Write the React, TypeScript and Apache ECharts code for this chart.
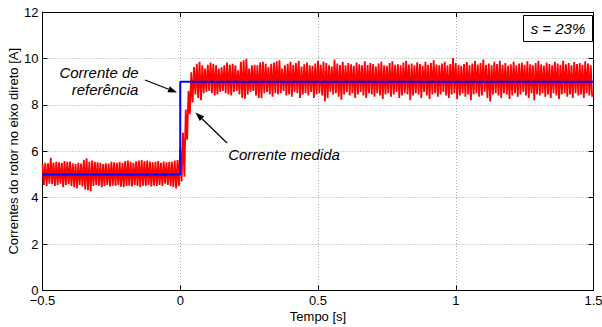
import React, { useEffect, useRef } from "react";
import * as echarts from "echarts";

// ---------- data ----------
const xTickLabels = ["\u22120.5", "0", "0.5", "1", "1.5"];
const yTickLabels = ["0", "2", "4", "6", "8", "10", "12"];

// reference current (step)
const refTime = [-0.5, 0, 0, 1.5];
const refValue = [5, 5, 9, 9];

// measured current: upper / lower envelope per 0.01 s bin, starting at t = -0.5
const T0 = -0.5;
const BIN = 0.01;
const preHi = [5.45, 5.5, 5.48, 5.72, 5.5, 5.55, 5.52, 5.5, 5.58, 5.55, 5.56, 5.48, 5.45, 5.5, 5.47, 5.62, 5.7, 5.55, 5.6, 5.54, 5.52, 5.5, 5.45, 5.48, 5.47, 5.55, 5.52, 5.5, 5.53, 5.5, 5.58, 5.6, 5.55, 5.5, 5.57, 5.6, 5.62, 5.58, 5.6, 5.56, 5.52, 5.55, 5.58, 5.5, 5.56, 5.52, 5.54, 5.55, 5.6, 5.62];
const preLo = [4.55, 4.5, 4.6, 4.58, 4.5, 4.55, 4.6, 4.45, 4.55, 4.58, 4.5, 4.45, 4.4, 4.55, 4.48, 4.35, 4.32, 4.28, 4.5, 4.55, 4.52, 4.45, 4.5, 4.55, 4.48, 4.52, 4.5, 4.55, 4.47, 4.45, 4.5, 4.52, 4.48, 4.55, 4.5, 4.45, 4.52, 4.5, 4.55, 4.48, 4.52, 4.5, 4.55, 4.5, 4.6, 4.55, 4.5, 4.45, 4.4, 4.5];
const stepHi = [6.2, 6.8, 7.8, 8.6, 9.4];
const stepLo = [4.7, 4.9, 6.5, 7.6, 8.1];
const postHi = [
  9.63, 9.77, 9.85, 9.7, 9.56, 9.72, 9.82, 9.77, 9.7, 9.56,
  9.63, 9.7, 9.82, 9.72, 9.77, 9.7, 9.49, 9.85, 9.92, 9.98,
  9.56, 9.7, 9.72, 9.7, 9.82, 9.85, 9.77, 9.63, 9.77, 9.82,
  9.88, 9.92, 9.56, 9.7, 9.77, 9.85, 9.72, 9.8, 9.9, 9.65,
  9.75, 9.82, 9.7, 9.68, 9.78, 9.9, 9.72, 9.85, 9.8, 9.7,
  9.65, 9.95, 9.78, 9.72, 9.85, 9.7, 9.8, 9.75, 9.68, 9.82,
  9.75, 9.7, 9.88, 9.72, 9.8, 9.76, 9.65, 9.78, 9.85, 9.7,
  9.68, 9.8, 9.88, 9.72, 9.75, 9.7, 9.82, 9.9, 9.74, 9.78,
  9.7, 9.83, 9.76, 9.68, 9.85, 9.72, 9.8, 9.92, 9.74, 9.7,
  9.78, 9.85, 9.7, 9.76, 10.02, 9.8, 9.72, 9.68, 9.76, 9.84,
  9.7, 9.78, 9.9, 9.74, 9.8, 9.95, 9.72, 9.78, 9.7, 9.86,
  9.76, 9.9, 9.72, 9.8, 9.68, 9.75, 9.85, 9.7, 9.78, 9.82,
  9.72, 9.88, 9.75, 9.7, 9.8, 9.9, 9.74, 9.68, 9.82, 9.76,
  9.7, 9.85, 9.78, 9.72, 9.9, 9.75, 9.8, 9.7, 9.84, 9.76,
  9.8, 9.72, 9.88, 9.78, 9.7,
];
const postLo = [
  8.45, 8.3, 8.2, 8.5, 8.55, 8.6, 8.5, 8.4, 8.45, 8.55,
  8.6, 8.5, 8.45, 8.4, 8.55, 8.6, 8.45, 8.3, 8.26, 8.45,
  8.55, 8.6, 8.4, 8.3, 8.28, 8.5, 8.55, 8.45, 8.35, 8.5,
  8.45, 8.5, 8.6, 8.4, 8.45, 8.35, 8.55, 8.5, 8.3, 8.45,
  8.5, 8.4, 8.55, 8.3, 8.45, 8.5, 8.4, 8.15, 8.3, 8.55,
  8.45, 8.5, 8.35, 8.22, 8.45, 8.55, 8.4, 8.5, 8.3, 8.45,
  8.55, 8.4, 8.3, 8.5, 8.45, 8.35, 8.5, 8.4, 8.25, 8.45,
  8.5, 8.35, 8.45, 8.55, 8.3, 8.4, 8.5, 8.45, 8.2, 8.4,
  8.5, 8.45, 8.3, 8.55, 8.4, 8.25, 8.45, 8.5, 8.35, 8.45,
  8.55, 8.4, 8.3, 8.45, 8.5, 8.25, 8.4, 8.5, 8.35, 8.45,
  8.2, 8.45, 8.5, 8.35, 8.4, 8.55, 8.3, 8.15, 8.45, 8.5,
  8.4, 8.3, 8.5, 8.45, 8.25, 8.4, 8.5, 8.35, 8.45, 8.55,
  8.4, 8.3, 8.5, 8.2, 8.45, 8.4, 8.5, 8.35, 8.45, 8.3,
  8.5, 8.4, 8.25, 8.45, 8.5, 8.35, 8.45, 8.3, 8.5, 8.4,
  8.45, 8.3, 8.5, 8.4, 8.35,
];

const FONT = "'Liberation Sans', Arial, Helvetica, sans-serif";

function arrow(x1: number, y1: number, x2: number, y2: number) {
  const dx = x2 - x1;
  const dy = y2 - y1;
  const len = Math.sqrt(dx * dx + dy * dy);
  const ux = dx / len;
  const uy = dy / len;
  const hl = 9;
  const hw = 3.2;
  const bx = x2 - ux * hl;
  const by = y2 - uy * hl;
  return [
    {
      type: "line",
      z: 100,
      shape: { x1, y1, x2: bx, y2: by },
      style: { stroke: "#000", lineWidth: 1.2 },
    },
    {
      type: "polygon",
      z: 100,
      shape: {
        points: [
          [x2, y2],
          [bx - uy * hw, by + ux * hw],
          [bx + uy * hw, by - ux * hw],
        ],
      },
      style: { fill: "#000" },
    },
  ];
}

export default function App() {
  const ref = useRef<HTMLDivElement>(null);

  useEffect(() => {
    if (!ref.current) return;
    const chart = echarts.init(ref.current, undefined, { renderer: "svg" });

    const hiAll = [...preHi, ...stepHi, ...postHi];
    const loAll = [...preLo, ...stepLo, ...postLo];
    const measured: number[][] = [];
    hiAll.forEach((h, k) => {
      const t = T0 + k * BIN;
      measured.push([+t.toFixed(4), h], [+(t + BIN / 2).toFixed(4), loAll[k]]);
    });
    const reference = refTime.map((t, i) => [t, refValue[i]]);

    const axisCommon = {
      axisLine: { show: true, onZero: false, lineStyle: { color: "#000", width: 1 } },
      axisTick: { show: true, inside: true, length: 5, lineStyle: { color: "#000" } },
    };

    chart.setOption({
      animation: false,
      backgroundColor: "#fff",
      textStyle: { fontFamily: FONT },
      grid: {
        left: 42.5,
        right: 8.5,
        top: 12,
        bottom: 36.5,
        containLabel: false,
        outerBoundsMode: "none",
      },
      xAxis: [
        {
          type: "value",
          min: -0.5,
          max: 1.5,
          interval: 0.5,
          position: "bottom",
          ...axisCommon,
          axisLabel: {
            color: "#000",
            fontSize: 13,
            fontFamily: FONT,
            margin: 3,
            formatter: (_v: number, i: number) => xTickLabels[i],
          },
          splitLine: { show: true, lineStyle: { color: "#aaa", type: [1, 2], width: 1 } },
          name: "Tempo [s]",
          nameLocation: "middle",
          nameGap: 19,
          nameMoveOverlap: false,
          nameTextStyle: { color: "#000", fontSize: 13, fontFamily: FONT, verticalAlign: "top" },
        },
        {
          type: "value",
          min: -0.5,
          max: 1.5,
          interval: 0.5,
          position: "top",
          ...axisCommon,
          axisLabel: { show: false },
          splitLine: { show: false },
        },
      ],
      yAxis: [
        {
          type: "value",
          min: 0,
          max: 12,
          interval: 2,
          position: "left",
          ...axisCommon,
          axisLabel: {
            color: "#000",
            fontSize: 13,
            fontFamily: FONT,
            margin: 4,
            formatter: (_v: number, i: number) => yTickLabels[i],
          },
          splitLine: { show: true, lineStyle: { color: "#aaa", type: [1, 2], width: 1 } },
          name: "Correntes do rotor no eixo direto [A]",
          nameLocation: "middle",
          nameGap: 23,
          nameMoveOverlap: false,
          nameTextStyle: { color: "#000", fontSize: 13, fontFamily: FONT },
        },
        {
          type: "value",
          min: 0,
          max: 12,
          interval: 2,
          position: "right",
          ...axisCommon,
          axisLabel: { show: false },
          splitLine: { show: false },
        },
      ],
      series: [
        {
          name: "Corrente medida",
          type: "line",
          xAxisIndex: 0,
          yAxisIndex: 0,
          data: measured,
          showSymbol: false,
          symbol: "none",
          lineStyle: { color: "#ff0000", width: 1.8, join: "miter" },
          z: 2,
        },
        {
          name: "Corrente de referência",
          type: "line",
          xAxisIndex: 0,
          yAxisIndex: 0,
          data: reference,
          showSymbol: false,
          symbol: "none",
          lineStyle: { color: "#0000ff", width: 2 },
          z: 3,
        },
      ],
      graphic: [
        {
          type: "text",
          z: 100,
          x: 99,
          y: 72,
          style: {
            text: "Corrente de",
            font: `italic 15px ${FONT}`,
            fill: "#000",
            align: "center",
            verticalAlign: "middle",
          },
        },
        {
          type: "text",
          z: 100,
          x: 105,
          y: 89,
          style: {
            text: "referência",
            font: `italic 15px ${FONT}`,
            fill: "#000",
            align: "center",
            verticalAlign: "middle",
          },
        },
        {
          type: "text",
          z: 100,
          x: 284,
          y: 154,
          style: {
            text: "Corrente medida",
            font: `italic 15px ${FONT}`,
            fill: "#000",
            align: "center",
            verticalAlign: "middle",
          },
        },
        ...arrow(145, 80, 177, 92.5),
        ...arrow(227, 143, 195.5, 112.5),
        {
          type: "rect",
          z: 100,
          shape: { x: 523.5, y: 15.5, width: 69, height: 26 },
          style: { fill: "#fff", stroke: "#000", lineWidth: 1 },
        },
        {
          type: "text",
          z: 101,
          x: 558,
          y: 28.5,
          style: {
            text: "s = 23%",
            font: `italic 15px ${FONT}`,
            fill: "#000",
            align: "center",
            verticalAlign: "middle",
          },
        },
      ],
    });

    return () => chart.dispose();
  }, []);

  return (
    <div
      ref={ref}
      style={{ position: "absolute", left: 0, top: 0, width: 602, height: 327, background: "#fff" }}
    />
  );
}
